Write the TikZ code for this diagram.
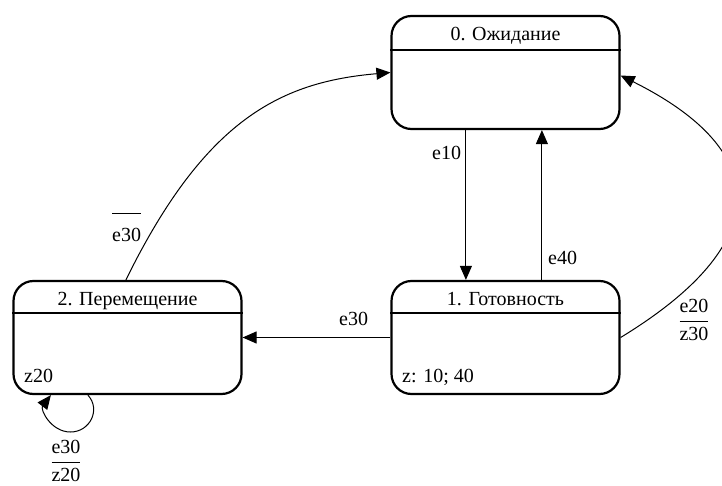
\documentclass[tikz,border=0pt]{standalone}
\usepackage{amsmath}
\usepackage{fontspec}
\setmainfont{Liberation Serif}
\usetikzlibrary{arrows.meta,calc}
\begin{document}
\begin{tikzpicture}[x=1pt,y=-1pt,
  statebox/.style={draw,line width=2.2pt,rounded corners=20pt,minimum width=228pt,minimum height=113pt,inner sep=0pt},
  hdr/.style={line width=2.2pt},
  txt/.style={font=\rmfamily\fontsize{20}{24}\selectfont,inner sep=0pt},
  conn/.style={line width=1pt},
  arr/.style={conn,-{Triangle[length=14pt,width=12pt]}}
]
\useasboundingbox (0,0) rectangle (722,486);
% states
\node[statebox] (s0) at (505.5,72.5) {};
\node[statebox] (s1) at (505.5,337.5) {};
\node[statebox] (s2) at (127.5,337.5) {};
\draw[hdr] ($(s0.north west)+(0,35)$) -- ($(s0.north east)+(0,35)$);
\draw[hdr] ($(s1.north west)+(0,33)$) -- ($(s1.north east)+(0,33)$);
\draw[hdr] ($(s2.north west)+(0,33)$) -- ($(s2.north east)+(0,33)$);
\node[txt,anchor=base] (h0) at (505.5,41) {0. Ожидание};
\node[txt,anchor=base] (h1) at (505.5,305) {1. Готовность};
\node[txt,anchor=base] (h2) at (127.5,305) {2. Перемещение};
\node[txt,anchor=base west] (a1) at (402,382) {z: 10; 40};
\node[txt,anchor=base west] (a2) at (24,382) {z20};
% transitions
\draw[arr] ($(s0.south west)+(75.5,0)$) -- ($(s1.north west)+(75.5,0)$);
\node[txt,anchor=base west] (l10) at (432,160) {e10};
\draw[arr] ($(s1.north west)+(151.5,0)$) -- ($(s0.south west)+(151.5,0)$);
\node[txt,anchor=base west] (l40) at (548,265) {e40};
\draw[arr] (s1.west) -- (s2.east);
\node[txt,anchor=base west] (l30) at (339,325) {e30};
\draw[arr] ($(s2.north west)+(113.5,0)$) .. controls (205,119) and (281,82) .. (s0.west);
\node[txt,anchor=base west] (l30b) at (112,242) {e30};
\draw[conn] ([yshift=14.5pt]l30b.north west) -- ([yshift=14.5pt]l30b.north east);
\draw[arr] (s1.east) .. controls (774,244) and (774,152) .. ($(s0.east)+(0,3)$);
\node[txt] (l20) at (694,320) {$\dfrac{\text{e20}}{\text{z30}}$};
\draw[arr] ($(s2.south west)+(75.5,0)$) .. controls (101.1,409.4) and (90.1,432) .. (70.5,432)
  .. controls (50.9,432) and (39.9,409.4) .. ($(s2.south west)+(38.5,0)$);
\node[txt] (lself) at (66,461) {$\dfrac{\text{e30}}{\text{z20}}$};
\end{tikzpicture}
\end{document}
